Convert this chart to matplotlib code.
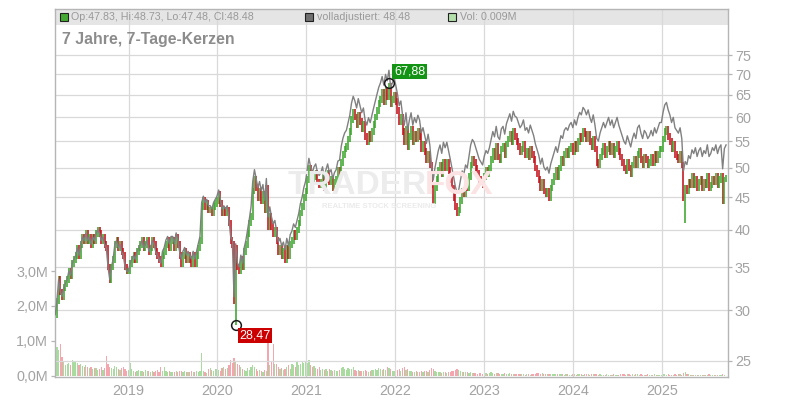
import matplotlib
matplotlib.use("Agg")
import matplotlib.pyplot as plt
from matplotlib.patches import Rectangle
import numpy as np
import pandas as pd

plt.rcParams['font.family'] = ['Liberation Sans', 'DejaVu Sans']

# weekly closes (EUR), one row per month
close_2018 = [29.5, 31.0, 33.5, 32.0,
              31.5, 32.5, 33.0, 33.5,
              34.5, 34.0, 35.5, 36.0,
              36.5, 37.5, 36.5, 38.0, 39.0,
              38.5, 39.5, 38.5, 39.0,
              38.0, 39.0, 38.5, 39.5, 40.0,
              39.5, 38.5, 39.0, 38.0,
              37.5, 35.0, 33.5, 35.0,
              36.0, 38.0, 38.5, 37.5, 38.0,
              37.0, 36.5, 35.0, 34.5]
close_2019 = [34.5, 35.5, 36.0, 36.5,
              36.0, 37.0, 37.5, 38.0,
              38.5, 37.5, 38.0, 38.5, 37.0,
              37.5, 38.5, 38.0, 37.0,
              36.5, 36.0, 35.5, 36.5, 37.0,
              38.0, 38.5, 37.5, 38.5,
              38.5, 37.5, 39.0, 38.0,
              36.5, 35.5, 36.5, 37.0, 36.0,
              36.5, 36.0, 35.5, 36.5,
              35.5, 36.5, 37.5, 38.5,
              43.5, 44.5, 43.5, 44.0, 43.0,
              43.0, 42.5, 43.5, 44.0]
close_2020 = [44.5, 45.5, 44.0, 42.5, 43.0,
              42.5, 43.0, 41.0, 38.5,
              38.0, 31.0, 37.5, 35.0,
              34.5, 36.0, 35.0, 37.0,
              38.0, 39.5, 41.0, 42.0, 46.0,
              48.0, 46.5, 45.0, 46.0,
              44.5, 45.5, 43.0, 46.5, 40.5,
              42.0, 40.5, 39.5, 40.0,
              38.5, 37.0, 37.5, 36.5,
              37.0, 36.0, 37.5, 36.5, 38.0,
              38.5, 39.5, 39.0, 40.0,
              41.0, 42.5, 43.5, 45.0]
close_2021 = [46.0, 48.0, 50.0, 48.5, 47.5, 48.5, 49.0, 47.5, 47.0,
              47.5, 48.5, 46.5, 48.0, 49.0, 47.5, 48.0, 46.5, 47.5, 48.0, 49.5, 48.5,
              51.0, 52.5, 53.5, 54.0, 55.5, 57.0, 59.5, 61.0,
              60.0, 58.5, 60.5, 59.0, 57.5, 58.5,
              56.0, 55.0, 56.5, 55.5, 57.0, 58.5,
              60.0, 61.5, 63.0, 64.0, 65.5,
              63.5, 66.0, 64.5, 67.0, 63.0, 64.0, 65.0]
close_2022 = [63.5, 61.5, 59.0, 60.0, 57.0, 55.0, 57.5, 54.0,
              56.0, 57.5, 55.0, 56.5, 55.5, 57.0, 56.0, 53.5,
              54.5, 53.0, 51.5, 52.5, 50.5,
              47.0, 44.5,
              46.5, 48.0, 49.5, 50.5, 49.0, 51.0, 50.0, 51.0,
              49.5, 48.0, 46.5, 45.0, 43.5,
              42.5, 43.0, 44.5,
              46.0, 45.5, 47.0, 46.5,
              48.5, 50.5, 51.5, 51.0, 50.0, 49.0,
              48.0, 47.5, 47.0]
close_2023 = [48.5, 49.5, 49.0, 50.0,
              51.5, 53.0, 52.0, 54.0,
              52.0, 51.5, 53.5, 54.0, 52.5, 54.5,
              55.5, 56.5, 55.0, 57.0, 56.0,
              55.0, 54.0, 53.0, 53.5, 54.5, 52.5, 53.0, 52.0, 53.5,
              52.5, 51.5, 50.0, 49.0, 48.0, 46.5,
              47.5, 46.0, 45.5, 46.0, 45.0,
              46.5, 47.5, 48.5, 49.5, 48.5, 50.0,
              51.5, 51.0, 52.5, 53.0, 52.5, 53.5, 54.0]
close_2024 = [53.0, 54.5, 53.5, 55.0, 56.0, 55.5, 57.0, 56.5, 55.5,
              56.5, 55.0, 54.0, 55.5,
              53.5, 51.0, 50.5, 52.0,
              53.0, 54.0, 52.5, 53.5, 54.5, 53.0, 54.0, 52.5, 53.5, 54.5, 53.0,
              52.0, 51.0, 50.0, 49.5, 51.0, 50.0, 49.0, 50.5, 51.5, 50.5,
              52.5, 53.0, 51.5, 50.5, 52.0,
              51.5, 50.5, 51.0, 52.0, 51.0, 52.5, 51.5, 52.5, 53.5]
close_2025 = [53.5, 55.5, 57.0, 57.5, 56.0,
              55.0, 53.5, 54.5, 52.5, 52.0,
              51.5, 52.5, 50.5, 45.0,
              46.5,
              46.0, 47.5, 47.0,
              48.5, 47.0, 48.0, 46.5, 47.5,
              48.0, 46.5, 47.5, 47.0, 48.5,
              46.5,
              47.0, 48.0, 47.5, 48.5, 47.0, 48.0, 48.5,
              44.5,
              47.83,
              48.48]

# weekly volume in thousand shares
vol_2018 = [1270, 840, 740, 910, 550, 420, 300, 350, 380, 300,
            460, 440, 420, 380, 300, 330, 280, 250, 300, 270,
            220, 250, 200, 230, 240, 180, 200, 250, 180, 220,
            570, 330, 260, 230, 200, 280, 250, 200, 180, 220,
            250, 200, 150]
vol_2019 = [180, 360, 200, 150, 120, 150, 180, 130, 140, 120,
            160, 150, 130, 120, 140, 110, 130, 160, 120, 270,
            140, 250, 150, 120, 130, 110, 100, 120, 130, 110,
            150, 130, 120, 140, 110, 120, 100, 130, 110, 120,
            140, 110, 150, 660, 150, 100, 80, 200, 220, 180,
            150, 200]
vol_2020 = [200, 180, 150, 220, 250, 200, 230, 300, 450, 380,
            510, 400, 350, 300, 250, 200, 180, 150, 220, 180,
            250, 300, 250, 200, 150, 180, 150, 120, 180, 140,
            1030, 300, 420, 910, 350, 350, 250, 200, 230, 180,
            200, 250, 300, 200, 350, 300, 250, 400, 300, 350,
            420, 380]
vol_2021 = [420, 380, 450, 300, 250, 280, 220, 200, 260, 180,
            200, 170, 190, 150, 210, 160, 140, 180, 150, 130,
            170, 220, 260, 200, 180, 240, 210, 190, 250, 170,
            150, 160, 140, 130, 150, 160, 140, 120, 150, 170,
            160, 200, 180, 220, 190, 160, 210, 180, 250, 230,
            200, 150, 130]
vol_2022 = [150, 180, 200, 140, 220, 250, 160, 190, 140, 130,
            120, 110, 130, 100, 120, 140, 110, 130, 150, 120,
            180, 230, 200, 140, 120, 110, 100, 90, 110, 100,
            90, 100, 120, 130, 150, 170, 200, 160, 130, 110,
            100, 120, 110, 90, 100, 80, 90, 80, 70, 90,
            80, 60]
vol_2023 = [70, 80, 60, 90, 100, 80, 70, 90, 80, 60,
            70, 60, 80, 70, 60, 90, 70, 60, 50, 60,
            70, 50, 60, 50, 40, 60, 50, 40, 50, 70,
            60, 80, 90, 70, 80, 60, 70, 50, 60, 70,
            60, 50, 60, 70, 50, 60, 50, 40, 60, 50,
            40, 30]
vol_2024 = [50, 60, 40, 50, 60, 50, 40, 50, 60, 50,
            40, 50, 60, 70, 50, 40, 50, 40, 30, 40,
            50, 40, 30, 40, 50, 40, 30, 40, 50, 60,
            50, 40, 50, 60, 40, 50, 40, 50, 60, 40,
            50, 40, 30, 40, 50, 40, 30, 40, 50, 40,
            30, 40]
vol_2025 = [40, 60, 50, 40, 50, 40, 30, 40, 50, 40,
            60, 50, 40, 90, 120, 70, 50, 40, 30, 40,
            30, 40, 30, 20, 30, 40, 30, 20, 50, 30,
            20, 30, 20, 30, 20, 20, 50, 30, 9]

# wick extremes that stick out of the bodies
wick_low = {'2020-03-16': 28.47, '2025-04-07': 41.0, '2025-09-22': 47.48}
wick_high = {'2021-12-06': 67.88, '2025-09-22': 48.73}

# factor of the "volladjustiert" line, from the given date on
adj_start = ['2018-03-01', '2019-05-20', '2020-05-18', '2021-05-17',
             '2022-05-16', '2023-05-15', '2024-05-13', '2025-05-12']
adj_factor = [1.00, 1.015, 1.035, 1.06, 1.075, 1.09, 1.10, 1.12]

year_ticks = [2019, 2020, 2021, 2022, 2023, 2024, 2025]
price_ticks = [25, 30, 35, 40, 45, 50, 55, 60, 65, 70, 75]
vol_ticks = [0, 1, 2, 3]

closes = (close_2018 + close_2019 + close_2020 + close_2021 + close_2022
          + close_2023 + close_2024 + close_2025)
vols = (vol_2018 + vol_2019 + vol_2020 + vol_2021 + vol_2022
        + vol_2023 + vol_2024 + vol_2025)

df = pd.DataFrame({'close': closes, 'vol': vols})
df.index = pd.date_range('2018-03-05', periods=len(df), freq='W-MON')
df['open'] = df['close'].shift(1).fillna(df['close'].iloc[0])
# bars are drawn body plus a short wick on both ends
df['high'] = df[['open', 'close']].max(axis=1) * 1.012
df['low'] = df[['open', 'close']].min(axis=1) * 0.988
for d, v in wick_low.items():
    df.loc[pd.Timestamp(d), 'low'] = v
for d, v in wick_high.items():
    df.loc[pd.Timestamp(d), 'high'] = v
df['fac'] = 1.0
for d, f in zip(adj_start, adj_factor):
    df.loc[df.index >= pd.Timestamp(d), 'fac'] = f
df['adj'] = df['close'] * df['fac']

up = df['close'] >= df['open']
GREEN, RED = '#3ca52c', '#c4121b'
cols = np.where(up, GREEN, RED)
vcols = np.where(up, '#a9dba1', '#f3a6ae')
GRID = '#d9d9d9'
TXT = '#a3a3a3'

fig = plt.figure(figsize=(8, 4), dpi=100)
pos = [55 / 800, 23 / 400, 673 / 800, 368 / 400]
ax_v = fig.add_axes(pos)
ax = ax_v.twinx()

# volume panel (left axis)
ax_v.bar(df.index, df['vol'] / 1000.0, width=5, color=vcols, linewidth=0)
ax_v.set_ylim(-0.03, 10.49)
ax_v.set_yticks(vol_ticks)
ax_v.set_yticklabels([f"{v:.1f}M".replace('.', ',') for v in vol_ticks])
for s in ax_v.spines.values():
    s.set_visible(False)

# price panel (right axis, log)
ax.set_yscale('log')
ax.set_ylim(23.58, 88.5)
ax.set_yticks(price_ticks)
ax.set_yticklabels([str(p) for p in price_ticks])
ax.minorticks_off()
ax.set_axisbelow(True)
ax.grid(True, axis='y', color=GRID, lw=0.9)
for yr in year_ticks:
    ax.axvline(pd.Timestamp(f'{yr}-01-01'), color=GRID, lw=0.9, zorder=0.5)

ax.add_patch(Rectangle((0, 1 - 16 / 368), 1, 16 / 368, transform=ax.transAxes,
                       fc='#e5e5e5', ec='none', zorder=0.2))

ax.vlines(df.index, df['low'], df['high'], colors=cols, lw=1.15, zorder=2)
ax.plot(df.index, df['adj'], color='#808080', lw=1.0, zorder=3)

for s in ax.spines.values():
    s.set_color('#b5b5b5')
    s.set_linewidth(1.0)

ax_v.set_xlim(pd.Timestamp('2018-03-04'), pd.Timestamp('2025-09-30'))
ax_v.set_xticks([pd.Timestamp(f'{y}-01-01') for y in year_ticks])
ax_v.set_xticklabels([str(y) for y in year_ticks])

for a in (ax, ax_v):
    a.tick_params(axis='both', colors='#b5b5b5', labelcolor=TXT,
                  labelsize=10.4, length=3, width=0.9, pad=2)
ax_v.tick_params(axis='x', length=0, pad=5)

# watermark
fig.text(288 / 800, 1 - 185 / 400, 'TRADER', fontsize=24, fontweight='bold',
         color='#ececec', va='center', ha='left', zorder=0)
fig.text(425 / 800, 1 - 185 / 400, 'FOX', fontsize=24, fontweight='bold',
         color='#fbe3e3', va='center', ha='left', zorder=0)
fig.text(322 / 800, 1 - 207 / 400, 'REALTIME STOCK SCREENING', fontsize=5.5,
         fontweight='bold', color='#ebebeb', va='center', ha='left', zorder=0)

# extremes
i_max = df['high'].idxmax()
i_min = df['low'].idxmin()
hi_val = df.loc[i_max, 'high']
lo_val = df.loc[i_min, 'low']
ax.plot([i_max], [hi_val], 'o', ms=7, mfc='none', mec='#1a1a1a', mew=1.1, zorder=5)
ax.plot([i_min], [lo_val], 'o', ms=7, mfc='none', mec='#1a1a1a', mew=1.1, zorder=5)
ax.annotate(f"{hi_val:.2f}".replace('.', ','), xy=(i_max, hi_val),
            xytext=(5, 5), textcoords='offset pixels', ha='left', va='bottom',
            color='white', fontsize=9,
            bbox=dict(boxstyle='square,pad=0.12', fc='#149414', ec='none'), zorder=6)
ax.annotate(f"{lo_val:.2f}".replace('.', ','), xy=(i_min, lo_val),
            xytext=(4, -5), textcoords='offset pixels', ha='left', va='top',
            color='white', fontsize=9,
            bbox=dict(boxstyle='square,pad=0.12', fc='#cc0000', ec='none'), zorder=6)

# header legend
last = df.iloc[-1]
y_h = 1 - 17 / 400
fig.add_artist(Rectangle((59.5 / 800, 1 - 21 / 400), 8 / 800, 8 / 400,
                         fc='#44aa33', ec='#222222', lw=0.8, transform=fig.transFigure))
fig.text(71 / 800, y_h, f"Op:{last['open']:.2f}, Hi:{last['high']:.2f}, "
         f"Lo:{last['low']:.2f}, Cl:{last['close']:.2f}",
         fontsize=7.7, color='#999999', va='center')
fig.add_artist(Rectangle((305 / 800, 1 - 21 / 400), 8 / 800, 8 / 400,
                         fc='#707070', ec='#222222', lw=0.8, transform=fig.transFigure))
fig.text(317 / 800, y_h, f"volladjustiert: {last['close']:.2f}",
         fontsize=7.7, color='#999999', va='center')
fig.add_artist(Rectangle((448 / 800, 1 - 21 / 400), 8 / 800, 8 / 400,
                         fc='#b3e0ab', ec='#222222', lw=0.8, transform=fig.transFigure))
fig.text(460 / 800, y_h, f"Vol: {last['vol'] / 1000:.3f}M",
         fontsize=7.7, color='#999999', va='center')

fig.text(62 / 800, 1 - 39.5 / 400, '7 Jahre, 7-Tage-Kerzen', fontsize=11.4,
         fontweight='bold', color='#8c8c8c', va='center')

fig.savefig('out.png', dpi=100)
